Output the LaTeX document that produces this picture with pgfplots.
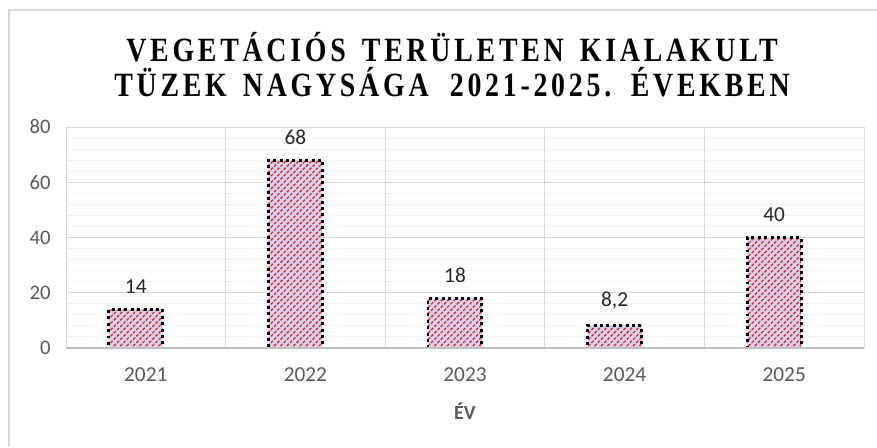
\documentclass[border=0pt]{standalone}
\usepackage{fontspec}
\setmainfont{Carlito}
\newfontfamily\titlefont{Liberation Serif}[FakeStretch=0.82, LetterSpace=11, WordSpace=1.5]
\usepackage{pgfplots}
\pgfplotsset{compat=1.18}
\usetikzlibrary{patterns.meta}
\definecolor{tickgray}{HTML}{595959}
\definecolor{gridmaj}{HTML}{D9D9D9}
\definecolor{gridmin}{HTML}{F0F0F0}
\definecolor{axisgray}{HTML}{BFBFBF}
\definecolor{barbg}{HTML}{D2D4F0}
\definecolor{barred}{HTML}{E8252B}
\begin{document}
\begin{tikzpicture}
\useasboundingbox (0,0) rectangle (657.75pt,335.25pt);
\draw[color=gridmaj, line width=1.5pt] (6.75pt,0) -- (6.75pt,327.75pt) -- (657.75pt,327.75pt);
\node[align=center, font=\titlefont\bfseries\fontsize{25.5}{26.25}\selectfont, inner sep=0pt] at (339pt,287pt)
  {VEGETÁCIÓS TERÜLETEN KIALAKULT\\TÜZEK NAGYSÁGA\ \hspace{0.15em}2021-2025. ÉVEKBEN};
\begin{axis}[
  at={(49.5pt,74.25pt)}, anchor=south west,
  scale only axis, width=598.5pt, height=165.75pt,
  xmin=-0.5, xmax=4.5, ymin=0, ymax=80,
  /pgf/number format/assume math mode=true,
  xtick={0,1,2,3,4}, xticklabels={2021,2022,2023,2024,2025},
  ytick={0,20,40,60,80}, minor y tick num=4,
  ymajorgrids, yminorgrids,
  major grid style={draw=gridmaj, line width=0.75pt},
  minor grid style={draw=gridmin, line width=0.75pt},
  extra x ticks={-0.5,0.5,1.5,2.5,3.5,4.5}, extra x tick labels={},
  extra x tick style={grid=major},
  axis line style={draw=none},
  tick style={draw=none},
  yticklabel style={font=\fontsize{15.5}{18}\selectfont, text=tickgray, anchor=east, xshift=-8pt},
  xticklabel style={font=\fontsize{16}{18}\selectfont, text=tickgray, yshift=-11pt},
  xlabel={\textbf{ÉV}},
  xlabel style={font=\fontsize{15}{18}\selectfont, text=tickgray, at={(axis description cs:0.5,0)}, anchor=center, yshift=-47pt},
  nodes near coords,
  nodes near coords style={font=\fontsize{16}{18}\selectfont, text=black!85, anchor=south, xshift=-7.5pt, yshift=7.5pt, /pgf/number format/use comma, /pgf/number format/assume math mode=true},
  clip=false,
]
\addplot[ybar, bar width=0.338, bar shift=-0.063,
  preaction={fill=barbg},
  preaction={pattern={Lines[angle=45,distance=3.4pt,line width=1.0pt]}, pattern color=barred},
  draw=black, line width=2.2pt, dash pattern=on 2.2pt off 2.6pt]
  coordinates {(0,14) (1,68) (2,18) (3,8.2) (4,40)};
\draw[axisgray, line width=2.2pt] (axis cs:-0.5,0) -- (axis cs:4.5,0);
\end{axis}
\end{tikzpicture}
\end{document}
